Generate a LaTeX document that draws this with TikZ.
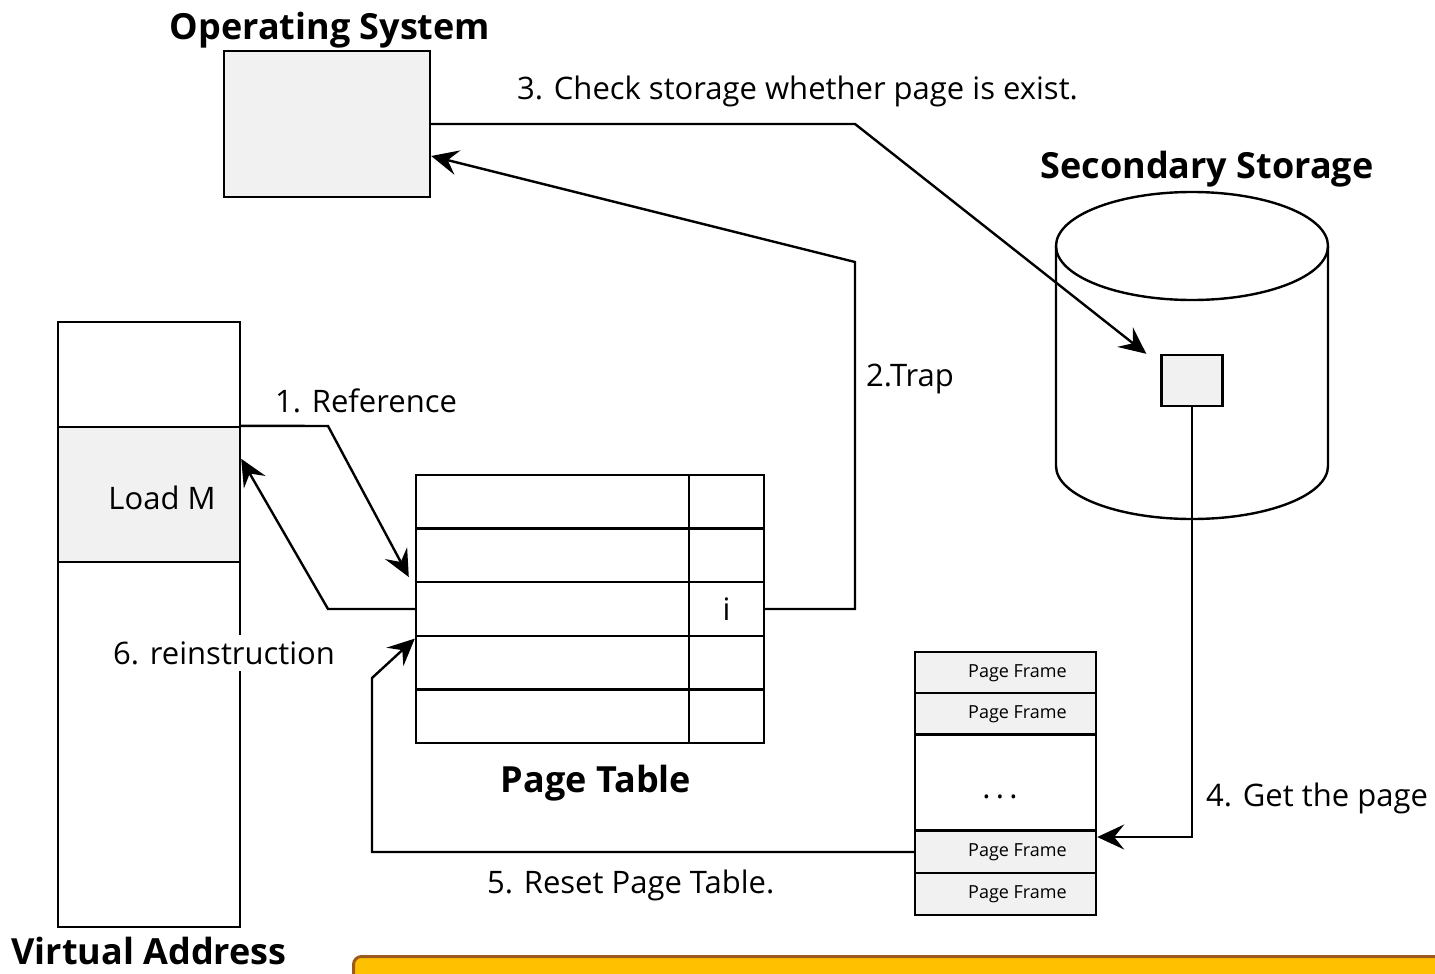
\documentclass[tikz,border=0pt]{standalone}
\usepackage{fontspec}
\setmainfont{Open Sans}
\usetikzlibrary{arrows.meta}
\definecolor{boxgray}{HTML}{F1F1F1}
\definecolor{noteyellow}{HTML}{FFC000}
\definecolor{notebrown}{HTML}{9C5B1E}
\tikzset{
  cell/.style={draw=black, line width=2.4pt, inner sep=0pt},
  graycell/.style={cell, fill=boxgray},
  ptrow/.style={cell, minimum width=273pt, minimum height=53.6pt},
  ptflag/.style={cell, minimum width=75pt, minimum height=53.6pt},
  vcell/.style={cell, minimum width=182pt},
  lbl/.style={font=\fontsize{31}{36}\selectfont, inner sep=0pt},
  ttl/.style={font=\fontsize{36}{42}\selectfont\bfseries, inner sep=0pt},
  pftext/.style={font=\fontsize{18}{22}\selectfont, inner sep=0pt, xshift=12pt},
  pframe/.style={graycell, minimum width=181pt, minimum height=42pt, label={[pftext]center:Page Frame}},
  conn/.style={line width=2.4pt, -{Stealth[length=27pt, width=25pt, inset=10pt]}},
}
\begin{document}
\begin{tikzpicture}[x=1pt, y=-1pt]
\useasboundingbox (0,0) rectangle (1435,974);

% operating system
\node[ttl] (ostitle) at (330,30) {Operating System};
\node[graycell, minimum width=206pt, minimum height=146pt] (os) at (327,124) {};

% secondary storage
\node[ttl] (sstitle) at (1207,169) {Secondary Storage};
\draw[line width=2.4pt, fill=white] (1056,246)--(1056,466) arc[start angle=180, end angle=0, x radius=136, y radius=53]--(1328,246);
\draw[line width=2.4pt] (1192,246) ellipse[x radius=136, y radius=54];
\node[graycell, minimum width=61pt, minimum height=51pt] (blk) at (1192,380.5) {};

% virtual address
\node[vcell, minimum height=105pt] (vtop) at (149,374.5) {};
\node[vcell, fill=boxgray, minimum height=135pt] (vload) at (149,494.5) {};
\node[vcell, minimum height=365pt] (vbot) at (149,744.5) {};
\node[lbl] (loadm) at (162,498) {Load M};
\node[ttl] (vatitle) at (149,951) {Virtual Address};

% page table
\node[ptrow] (row1) at (552.5,501.8) {};
\node[ptrow] (row2) at (552.5,555.4) {};
\node[ptrow] (row3) at (552.5,609) {};
\node[ptrow] (row4) at (552.5,662.6) {};
\node[ptrow] (row5) at (552.5,716.2) {};
\node[ptflag] (flag1) at (726.5,501.8) {};
\node[ptflag] (flag2) at (726.5,555.4) {};
\node[ptflag, font=\fontsize{31}{36}\selectfont] (flag3) at (726.5,609) {i};
\node[ptflag] (flag4) at (726.5,662.6) {};
\node[ptflag] (flag5) at (726.5,716.2) {};
\node[ttl] (pttitle) at (596,783) {Page Table};

% page frames
\node[pframe] (pf1) at (1005.5,673) {};
\node[pframe] (pf2) at (1005.5,714) {};
\node[cell, minimum width=181pt, minimum height=96pt] (pfgap) at (1005.5,782) {};
\node[lbl] (dots) at (1000,797) {.\,.\,.};
\node[pframe] (pf3) at (1005.5,852) {};
\node[pframe] (pf4) at (1005.5,894) {};

% note
\node[draw=notebrown, fill=noteyellow, line width=3pt, rounded corners=8pt, minimum width=1150pt, minimum height=80pt, anchor=north west] (note) at (352,955) {};

% bends
\coordinate (ref1) at (328,426);
\coordinate (re6) at (328,609);
\coordinate (trap1) at (855,609);
\coordinate (trap2) at (855,262);
\coordinate (chk) at (855,124);
\coordinate (get) at (1192,837);
\coordinate (rs1) at (372,852);
\coordinate (rs2) at (372,678);

% 1. reference
\draw[conn] (vload.north east)--(ref1)--([xshift=-6pt,yshift=4pt]row3.north west);
\node[lbl, anchor=west] (reflbl) at (275,401) {1. Reference};
% 2. trap
\draw[conn] (flag3.east)--(trap1)--(trap2)--([yshift=-32pt]os.east);
\node[lbl, anchor=west] (traplbl) at (866,379) {2.Trap};
% 3. check storage
\draw[conn] (os.east)--(chk)--([xshift=-14pt]blk.north west);
\node[lbl, anchor=west] (chklbl) at (517,91) {3. Check storage whether page is exist.};
% 4. get the page
\draw[conn] (blk.south)--(get)--(get -| pf3.east);
\node[lbl, anchor=west] (getlbl) at (1206,798) {4. Get the page};
% 5. reset page table
\draw[conn] (pf3.west)--(rs1)--(rs2)--([yshift=-4pt]row4.north west);
\node[lbl, anchor=west] (rslbl) at (487,885) {5. Reset Page Table.};
% 6. reinstruction
\draw[conn] (row3.west)--(re6)--([yshift=-33pt]vload.north east);
\node[lbl, anchor=west, fill=white, inner sep=6pt] (relbl) at (107,653) {6. reinstruction};
\end{tikzpicture}
\end{document}
